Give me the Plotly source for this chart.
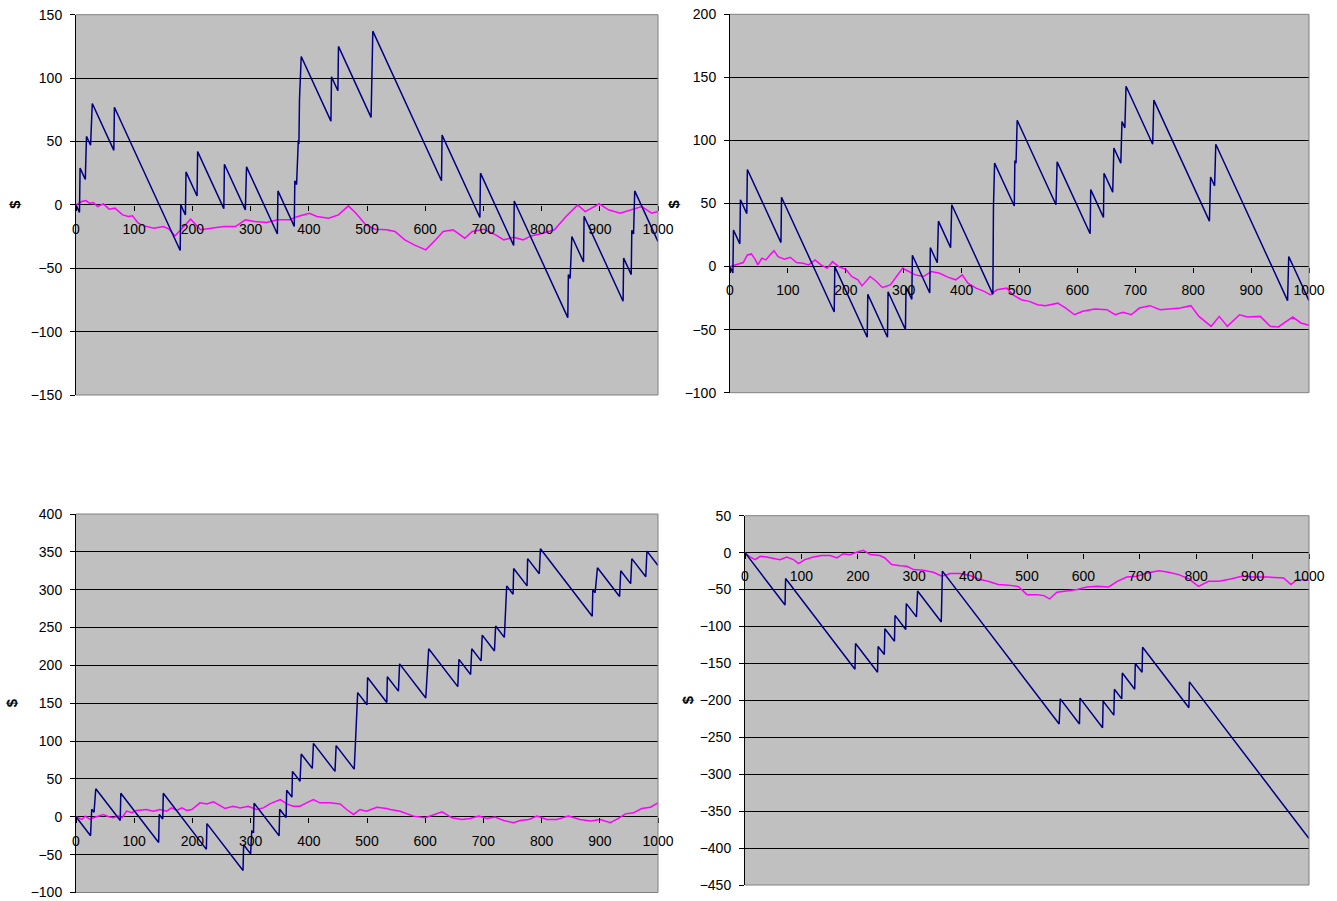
import plotly.graph_objects as go

# ---------------- data ----------------
x_ticks = [0, 100, 200, 300, 400, 500, 600, 700, 800, 900, 1000]

# Panel 1 (top-left)
p1_blue_x = [0, 6, 7, 16, 18, 25, 28, 65, 66, 179, 180, 188, 189, 208, 209, 254, 255, 291, 293, 346, 347, 375, 376, 379,
             382, 383, 384, 387, 438, 439, 450, 451, 507, 508, 509, 510, 628, 629, 694, 695, 752, 753, 845, 846, 849, 852,
             872, 873, 940, 941, 954, 955, 958, 960, 1000]
p1_blue_y = [0, -6, 29, 20, 54, 47, 80, 43, 77, -36, 0, -8, 26, 7, 42, -3, 32, -4, 30, -23, 11, -17, 19, 16,
             51, 48, 83, 117, 66, 101, 90, 125, 69, 105, 104, 137, 19, 55, -10, 25, -32, 3, -89, -55, -58, -25,
             -45, -9, -76, -42, -55, -20, -23, 11, -29]
p1_pink_x = [0, 10, 17, 23, 30, 37, 47, 57, 67, 80, 90, 97, 107, 117, 134, 150, 160, 170, 180, 197, 214, 234, 254, 274,
             291, 307, 327, 347, 367, 381, 401, 414, 434, 451, 468, 481, 498, 514, 534, 548, 565, 581, 601, 618, 631,
             648, 668, 681, 701, 721, 735, 752, 768, 782, 802, 822, 842, 862, 875, 899, 915, 935, 952, 972, 989, 1000]
p1_pink_y = [0, 2.6, 3.4, 1.3, 1.8, -1.3, 0.8, -3.4, -2.6, -7.9, -9.2, -8.7, -14.5, -16.6, -18.4, -17.1, -19.2, -24.5,
             -19.7, -11.3, -19.7, -18.4, -17.1, -17.1, -11.8, -13.2, -13.9, -11.8, -11.8, -9.2, -6.6, -9.2, -10.5, -7.9,
             -0.8, -6.6, -15.8, -19.2, -19.7, -21, -27.6, -31.6, -35.5, -27.6, -21, -19.7, -26.3, -21, -19.2, -23.7,
             -27.6, -25.5, -27.6, -24.5, -22.4, -19.7, -9.2, 0, -5.3, 0.8, -3.9, -6.6, -3.9, -1.3, -6.6, -5.3]

# Panel 2 (top-right)
p2_blue_x = [0, 5, 6, 17, 18, 29, 30, 88, 89, 180, 181, 237, 238, 272, 273, 303, 304, 314, 315, 345, 346, 358, 360, 381,
             383, 454, 455, 457, 491, 492, 494, 496, 563, 565, 622, 623, 645, 646, 661, 663, 675, 677, 682, 684, 730,
             732, 828, 830, 837, 839, 963, 965, 1000]
p2_blue_y = [0, -5, 29, 18, 53, 42, 77, 19, 55, -36, 0, -56, -22, -56, -20, -50, -16, -26, 9, -21, 15, 3, 36, 15,
             49, -22, 47, 82, 48, 84, 82, 116, 49, 83, 26, 61, 39, 74, 59, 94, 82, 115, 110, 143, 97,
             132, 36, 71, 64, 97, -27, 8, -27]
p2_pink_x = [0, 9, 16, 23, 30, 37, 44, 48, 55, 62, 69, 76, 83, 94, 104, 115, 126, 136, 147, 157, 168, 177, 189, 200,
             210, 221, 228, 242, 253, 263, 277, 288, 298, 309, 320, 334, 348, 362, 376, 390, 401, 411, 425, 439, 450,
             461, 478, 489, 503, 517, 531, 545, 566, 580, 595, 609, 630, 651, 665, 679, 693, 707, 725, 743, 760, 778,
             796, 810, 831, 845, 859, 880, 894, 916, 933, 947, 961, 972, 986, 1000]
p2_pink_y = [0, 1.3, 2.6, 3.2, 9.2, 10, 5.3, 1.3, 6.6, 5.3, 9.2, 12.6, 7.9, 5.8, 7.4, 3.2, 2.6, 1.3, 5.3, 1.3, -1.3,
             3.9, -0.5, -2.1, -7.9, -10.5, -15.3, -7.9, -11.8, -16.6, -14.5, -7.9, -1.3, -3.9, -6.6, -7.9, -3.9, -5.3,
             -8.4, -10.5, -6.6, -13.2, -17.1, -19.7, -22.4, -18.4, -17.1, -22.4, -26.3, -27.6, -30.3, -31, -29, -32.9,
             -38.2, -35.5, -33.7, -34.2, -38.2, -36.3, -38.2, -32.9, -31, -34.2, -33.7, -32.9, -31, -39.5, -47.4, -39.5,
             -47.4, -38.2, -40, -39.5, -47.4, -47.9, -43.4, -40, -44.7, -46.6]

# Panel 3 (bottom-left)
p3_blue_x = [0, 25, 27, 31, 34, 76, 77, 142, 143, 149, 150, 224, 225, 287, 288, 300, 302, 305, 306, 349, 350, 361, 362,
             371, 372, 385, 387, 406, 408, 445, 447, 478, 480, 482, 484, 500, 501, 534, 535, 554, 556, 601, 603, 606,
             656, 658, 678, 680, 696, 698, 719, 721, 736, 738, 740, 751, 752, 775, 776, 796, 798, 887, 888, 892, 896,
             934, 936, 953, 955, 979, 981, 1000]
p3_blue_y = [0, -25, 10, 6, 37, -5, 31, -34, 3, -3, 31, -43, -9, -71, -37, -49, -19, -20, 18, -25, 10, -1, 35,
             26, 60, 47, 83, 64, 97, 60, 94, 63, 95, 133, 164, 148, 184, 151, 185, 166, 202, 157, 189, 222,
             172, 208, 188, 222, 206, 240, 219, 252, 237, 272, 305, 294, 328, 305, 341, 321, 354, 265, 300, 296, 329,
             291, 325, 308, 341, 317, 351, 332]
p3_pink_x = [0, 10, 16, 24, 30, 38, 47, 56, 64, 73, 79, 87, 96, 104, 121, 133, 144, 156, 164, 173, 182, 190, 199, 213,
             225, 236, 245, 256, 270, 282, 296, 310, 322, 333, 351, 362, 373, 385, 396, 408, 419, 436, 454, 465, 477,
             488, 499, 517, 534, 540, 557, 580, 600, 614, 629, 646, 663, 677, 692, 706, 720, 735, 752, 763, 778, 792,
             809, 826, 846, 866, 884, 901, 918, 932, 944, 958, 972, 987, 1000]
p3_pink_y = [0, -3.5, 0.9, -3.5, -1.3, 0.9, 3.1, 0, -1.3, 0.9, -1.3, 7.5, 5.3, 8.3, 9.6, 7.5, 9.6, 7.5, 11.8, 8.3, 11.8,
             8.3, 9.6, 18.4, 17, 19.7, 16.2, 11, 14, 11.8, 14, 9.6, 11.8, 17, 22.8, 17, 14, 14, 18.4, 22.8, 18.4, 18.4,
             17, 9.6, 3.1, 9.6, 7.5, 12.7, 11, 9.6, 7.4, 0.9, -1.3, 2.2, 6.6, -1.3, -3.5, -2.2, 0.9, -2.2, -0.4, -4.8,
             -7.9, -4.8, -3.5, 0.9, -3.5, -3.5, 0.9, -3.5, -5.7, -3.5, -7.9, -2.2, 3.9, 5.2, 10.9, 12.7, 18.4]

# Panel 4 (bottom-right)
p4_blue_x = [0, 71, 72, 195, 196, 235, 236, 247, 248, 265, 266, 285, 286, 304, 306, 348, 350, 557, 559, 593, 594, 634,
             635, 654, 655, 668, 669, 691, 692, 704, 705, 787, 788, 1000]
p4_blue_y = [0, -71, -35, -158, -123, -162, -127, -138, -103, -120, -85, -104, -69, -87, -52, -94, -25, -232, -198,
             -232, -197, -237, -201, -220, -185, -198, -163, -185, -150, -162, -128, -210, -175, -387]
p4_pink_x = [0, 9, 18, 27, 38, 50, 62, 74, 86, 95, 106, 121, 136, 151, 163, 174, 186, 198, 210, 222, 239, 248, 260,
             275, 287, 299, 316, 334, 349, 364, 381, 399, 417, 431, 449, 467, 485, 500, 518, 530, 540, 553, 571, 589,
             606, 624, 645, 660, 677, 695, 713, 734, 751, 769, 787, 804, 822, 840, 861, 881, 902, 926, 955, 968, 979,
             1000]
p4_pink_y = [0, -5.9, -9.5, -5, -5.9, -7.2, -9.5, -5.9, -9.5, -14.9, -9.5, -5.9, -4, -4, -7.2, -1.4, -2.7, 0.5, 3.2,
             -2.7, -4, -7.2, -16.2, -17.6, -18.5, -23, -23.9, -26.6, -32, -28.4, -28.4, -31, -36.5, -38.7, -43.2, -44,
             -46, -56.9, -56.9, -58.2, -62.7, -53.7, -52.3, -50, -46.5, -45.6, -46.5, -38.8, -33, -32, -27.5, -24.4,
             -26.6, -29.8, -35.6, -45.6, -38.8, -38.8, -35.6, -32, -33, -33, -34.3, -43.3, -36.5, -37.5]

y_ranges = [(-150, 150), (-100, 200), (-100, 400), (-450, 50)]

# ---------------- layout geometry (pixels) ----------------
W, H = 1337, 901
# (left, right, top, bottom) of each plot area in pixels
boxes = [(76, 658, 14.7, 395), (730, 1309, 14.3, 392.7), (76, 658, 514, 892.5), (745, 1309, 515.7, 885)]
dollar_x = [15, 673, 11, 687]

FONT = "Arial, 'Liberation Sans', sans-serif"
BLUE = "#000080"
PINK = "#FF00FF"

series = [(p1_blue_x, p1_blue_y, p1_pink_x, p1_pink_y),
          (p2_blue_x, p2_blue_y, p2_pink_x, p2_pink_y),
          (p3_blue_x, p3_blue_y, p3_pink_x, p3_pink_y),
          (p4_blue_x, p4_blue_y, p4_pink_x, p4_pink_y)]

fig = go.Figure()
layout = dict(width=W, height=H, autosize=False,
              margin=dict(l=0, r=0, t=0, b=0, pad=0, autoexpand=False), paper_bgcolor="white",
              plot_bgcolor="#C0C0C0", showlegend=False, shapes=[], annotations=[])

for i, ((bx, by, px, py), (l, r, t, b), (ymin, ymax)) in enumerate(zip(series, boxes, y_ranges)):
    n = "" if i == 0 else str(i + 1)
    xa, ya = "x" + n, "y" + n
    fig.add_trace(go.Scatter(x=px, y=py, mode="lines", line=dict(color=PINK, width=1.5),
                             xaxis=xa, yaxis=ya, hoverinfo="skip"))
    fig.add_trace(go.Scatter(x=bx, y=by, mode="lines", line=dict(color=BLUE, width=1.5),
                             xaxis=xa, yaxis=ya, hoverinfo="skip"))
    xd = [l / W, r / W]
    yd = [1 - b / H, 1 - t / H]
    zero_pos = yd[0] + (0 - ymin) / (ymax - ymin) * (yd[1] - yd[0])
    layout["xaxis" + n] = dict(domain=xd, range=[0, 1000], anchor="free", position=zero_pos, automargin=False,
                               tickvals=x_ticks, ticktext=[str(v) for v in x_ticks],
                               showgrid=False, zeroline=False, showline=False,
                               ticks="outside", ticklen=5, tickcolor="black", ticklabelstandoff=6,
                               ticklabeloverflow="allow",
                               tickfont=dict(family=FONT, size=14, color="black"))
    layout["yaxis" + n] = dict(domain=yd, range=[ymin, ymax], anchor=xa, dtick=50, tick0=0, automargin=False,
                               showgrid=True, gridcolor="black", gridwidth=1, zeroline=False,
                               showline=True, linecolor="black", linewidth=1,
                               ticks="outside", ticklen=5, tickcolor="black", ticklabelstandoff=5,
                               ticklabeloverflow="allow",
                               tickfont=dict(family=FONT, size=14, color="black"))
    # plot-area border (gray) on top/right/bottom
    for (x0, y0, x1, y1) in [(0, 1, 1, 1), (1, 0, 1, 1), (0, 0, 1, 0)]:
        layout["shapes"].append(dict(type="line", xref=xa + " domain", yref=ya + " domain",
                                     x0=x0, y0=y0, x1=x1, y1=y1, line=dict(color="#808080", width=1),
                                     layer="above"))
    layout["annotations"].append(dict(text="<b>$</b>", xref="paper", yref="paper",
                                      x=dollar_x[i] / W, y=(yd[0] + yd[1]) / 2, showarrow=False,
                                      textangle=-90, font=dict(family=FONT, size=15, color="black"),
                                      xanchor="center", yanchor="middle"))

fig.update_layout(**layout)
fig.write_html("out.html")
